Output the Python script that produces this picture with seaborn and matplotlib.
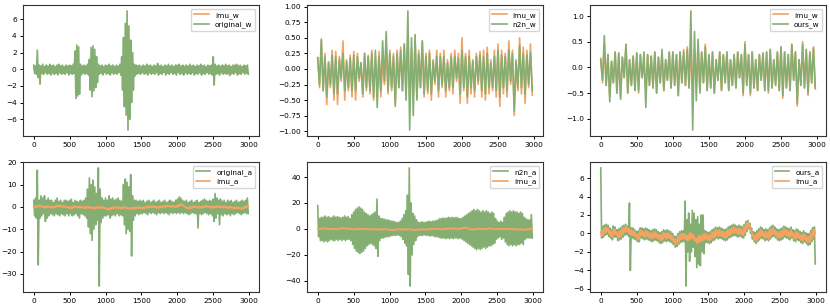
import numpy as np
import pandas as pd
import matplotlib
matplotlib.use("Agg")
import matplotlib.pyplot as plt
import seaborn as sns

# ---------------- data (hi / lo envelope values per bin) -------------
imu_w_hi = [0.18,0.45,0.25,0.12,0.30,0.28,0.20,0.45,0.15,0.22,
            0.28,0.25,0.10,0.25,0.22,0.30,0.20,0.28,0.15,0.30,
            0.30,0.25,0.30,0.35,0.40,0.40,0.35,0.45,0.30,0.45,
            0.25,0.30,0.15,0.30,0.25,0.30,0.15,0.25,0.30,0.25,
            0.50,0.25,0.30,0.15,0.25,0.28,0.30,0.35,0.15,0.30,
            0.40,0.30,0.25,0.45,0.30,0.15,0.50,0.35,0.30,0.40]
imu_w_lo = [-0.30,-0.35,-0.57,-0.30,-0.50,-0.57,-0.20,-0.50,-0.35,-0.45,
            -0.50,-0.20,-0.45,-0.35,-0.40,-0.50,-0.30,-0.45,-0.25,-0.40,
            -0.35,-0.55,-0.30,-0.35,-0.40,-0.45,-0.40,-0.45,-0.30,-0.45,
            -0.40,-0.50,-0.25,-0.45,-0.30,-0.45,-0.35,-0.40,-0.20,-0.55,
            -0.35,-0.55,-0.40,-0.45,-0.25,-0.45,-0.50,-0.40,-0.35,-0.45,
            -0.60,-0.40,-0.45,-0.25,-0.75,-0.35,-0.40,-0.55,-0.30,-0.42]

n2n_w_hi = [0.18,0.48,0.20,0.10,0.22,0.20,0.15,0.25,0.12,0.18,
            0.22,0.20,0.10,0.25,0.20,0.25,0.30,0.20,0.45,0.60,
            0.25,0.20,0.25,0.30,0.40,0.93,0.50,0.55,0.25,0.45,
            0.20,0.25,0.12,0.20,0.20,0.20,0.10,0.20,0.20,0.18,
            0.30,0.20,0.20,0.12,0.20,0.22,0.20,0.25,0.10,0.20,
            0.30,0.22,0.20,0.30,0.25,0.12,0.38,0.25,0.22,0.26]
n2n_w_lo = [-0.25,-0.35,-0.45,-0.25,-0.40,-0.40,-0.15,-0.35,-0.30,-0.35,
            -0.35,-0.15,-0.40,-0.30,-0.35,-0.45,-0.62,-0.35,-0.20,-0.35,
            -0.30,-0.60,-0.30,-0.35,-0.50,-0.98,-0.75,-0.50,-0.30,-0.40,
            -0.35,-0.40,-0.20,-0.35,-0.25,-0.35,-0.30,-0.30,-0.15,-0.40,
            -0.30,-0.45,-0.30,-0.35,-0.20,-0.35,-0.40,-0.30,-0.30,-0.35,
            -0.45,-0.30,-0.35,-0.20,-0.68,-0.30,-0.30,-0.40,-0.25,-0.35]

ours_w_hi = [0.15,0.62,0.25,0.12,0.30,0.28,0.20,0.45,0.15,0.22,
             0.28,0.25,0.30,0.25,0.22,0.30,0.20,0.35,0.15,0.30,
             0.30,0.25,0.30,0.30,0.35,1.10,0.70,0.55,0.30,0.40,
             0.25,0.30,0.15,0.30,0.25,0.30,0.15,0.25,0.30,0.25,
             0.45,0.25,0.30,0.15,0.25,0.28,0.30,0.35,0.15,0.30,
             0.40,0.30,0.25,0.45,0.30,0.15,0.45,0.35,0.30,0.38]
ours_w_lo = [-0.25,-0.35,-0.67,-0.30,-0.50,-0.62,-0.20,-0.50,-0.35,-0.45,
             -0.45,-0.20,-0.78,-0.35,-0.40,-0.50,-0.30,-0.45,-0.25,-0.40,
             -0.35,-0.55,-0.30,-0.35,-0.40,-1.22,-0.65,-0.50,-0.30,-0.45,
             -0.40,-0.50,-0.25,-0.45,-0.30,-0.45,-0.35,-0.40,-0.20,-0.50,
             -0.35,-0.50,-0.40,-0.45,-0.25,-0.45,-0.45,-0.40,-0.35,-0.45,
             -0.55,-0.40,-0.45,-0.25,-0.70,-0.35,-0.40,-0.50,-0.30,-0.40]

original_w_hi = [0.5,0.4,2.3,0.5,0.4,0.6,0.3,0.5,0.4,0.6,
                 0.4,0.5,0.3,0.5,0.6,0.4,0.5,0.3,0.5,0.4,
                 0.5,0.4,0.6,2.2,2.9,2.7,0.6,0.4,0.5,0.4,
                 0.6,1.2,2.6,2.8,2.4,1.5,0.6,0.4,0.5,0.3,
                 0.5,0.4,0.6,0.4,0.5,0.3,0.5,0.4,0.6,1.5,
                 3.8,5.5,7.0,5.2,3.5,2.0,0.6,0.5,0.4,0.5,
                 0.3,0.5,0.4,0.6,0.4,0.5,0.3,0.5,0.4,0.7,
                 0.4,0.5,0.3,0.5,0.4,0.6,0.4,0.5,0.3,0.5,
                 0.4,0.6,0.4,0.5,0.3,0.5,0.4,0.6,0.4,0.5,
                 0.3,0.5,0.4,0.6,0.4,0.5,0.3,0.5,0.4,0.5,
                 1.5,0.6,0.4,0.5,0.3,0.5,0.4,0.6,0.4,0.5,
                 0.3,0.5,0.4,0.6,0.4,0.5,0.3,0.5,0.4,0.5]
original_w_lo = [-0.5,-0.6,-1.0,-1.8,-0.5,-0.6,-0.4,-0.6,-0.5,-0.7,
                 -0.4,-0.6,-0.5,-0.7,-0.4,-0.6,-0.5,-0.6,-0.4,-0.7,
                 -0.5,-0.6,-0.5,-3.5,-3.2,-3.0,-0.7,-0.5,-0.6,-0.5,
                 -0.7,-2.5,-3.3,-2.6,-2.2,-1.6,-0.6,-0.5,-0.7,-0.4,
                 -0.6,-0.5,-0.7,-0.4,-0.6,-0.5,-0.6,-0.4,-0.7,-2.5,
                 -4.5,-5.5,-7.3,-6.0,-4.0,-2.5,-0.8,-0.6,-0.5,-0.6,
                 -0.4,-0.6,-0.5,-0.7,-0.4,-0.6,-0.5,-0.6,-0.4,-0.7,
                 -0.5,-0.6,-0.4,-0.7,-0.5,-0.6,-0.4,-0.6,-0.5,-0.7,
                 -0.4,-0.6,-0.5,-0.7,-0.4,-0.6,-0.5,-0.6,-0.4,-0.7,
                 -0.5,-0.6,-0.4,-0.7,-0.5,-0.6,-0.4,-0.6,-0.5,-0.7,
                 -1.9,-0.6,-0.5,-0.7,-0.4,-0.6,-0.5,-0.6,-0.4,-0.7,
                 -0.5,-0.6,-0.4,-0.7,-0.5,-0.6,-0.4,-0.6,-0.5,-0.6]

imu_a_hi = [0.15,0.35,0.6,0.7,0.55,0.3,0.1,0.45,0.45,0.05,
            0.2,0.25,0.5,0.65,0.8,0.55,0.5,0.35,0.3,0.15,
            -0.15,0.0,0.35,0.3,0.15,0.3,0.15,0.05,0.0,0.05,
            0.2,0.05,-0.15,-0.2,-0.15,0.1,-0.05,0.05,0.0,-0.15,
            -0.35,-0.6,-0.65,-0.3,-0.15,0.0,-0.05,-0.1,-0.25,-0.1,
            0.1,-0.05,-0.2,-0.55,-0.4,-0.2,-0.35,-0.1,0.0,-0.15,
            -0.2,-0.15,0.1,0.15,0.4,0.25,0.4,0.25,0.2,0.05,
            0.2,0.35,0.5,0.55,0.7,0.55,0.5,0.55,0.5,0.35,
            0.7,1.1,1.3,0.9,0.3,-0.15,-0.2,0.0,0.15,0.4,
            0.25,0.05,0.2,0.05,0.3,0.45,0.6,0.35,0.2,0.05,
            0.2,0.25,0.5,0.35,0.3,0.15,0.4,0.05,0.0,0.2,
            0.05,-0.15,-0.2,0.0,-0.25,-0.4,-0.35,0.0,0.3,0.45]
imu_a_lo = [-0.3,-0.15,0.05,0.2,0.0,-0.25,-0.4,-0.1,-0.1,-0.45,
            -0.4,-0.3,-0.05,0.15,0.2,0.05,-0.1,-0.2,-0.25,-0.4,
            -0.65,-0.6,-0.2,-0.25,-0.4,-0.25,-0.4,-0.5,-0.55,-0.5,
            -0.4,-0.5,-0.65,-0.8,-0.7,-0.45,-0.6,-0.5,-0.55,-0.7,
            -0.9,-1.2,-1.15,-0.9,-0.65,-0.6,-0.55,-0.7,-0.8,-0.65,
            -0.5,-0.6,-0.8,-1.05,-1.0,-0.8,-0.85,-0.7,-0.6,-0.7,
            -0.8,-0.65,-0.5,-0.4,-0.2,-0.3,-0.2,-0.3,-0.4,-0.5,
            -0.4,-0.2,-0.1,0.05,0.1,0.05,-0.1,0.0,-0.1,-0.2,
            0.1,0.5,0.8,0.3,-0.3,-0.65,-0.8,-0.6,-0.4,-0.2,
            -0.3,-0.5,-0.4,-0.5,-0.3,-0.1,0.0,-0.2,-0.4,-0.5,
            -0.4,-0.3,-0.1,-0.2,-0.3,-0.4,-0.2,-0.5,-0.6,-0.4,
            -0.5,-0.7,-0.8,-0.6,-0.8,-1.0,-0.9,-0.6,-0.3,0.0]

original_a_hi = [3,4,16.5,3,5,4,5,3,4,3,
                 3,2,3,4,2.5,3,2,3,3,2.5,
                 3,3.5,2,3,2.5,2,3,2.5,3,4,
                 8,13,10,12,9,6,17.5,8,4,3,
                 4,3,5,3.5,4,3,3.5,4,3,2.5,
                 10,12.5,11,9,14.5,5,3,3,2.5,3,
                 2.5,3,2,2.5,3,2,2.5,3,2,2.5,
                 3,2,2.5,3,2,2.5,3,2.5,2,3,
                 3.5,4.5,4,3,2.5,3,2,2.5,3,2,
                 2.5,3,2,2.5,3,3.5,3,2.5,3,2.5,
                 3.5,6,4,3,3.5,2.5,3,2,3,2.5,
                 3,2,2.5,3,2,2.5,3,2.5,3,4]
original_a_lo = [-4,-5,-26,-5,-4,-3,-6.5,-5,-4,-3,
                 -3.5,-4,-3,-3.5,-4,-3,-3.5,-4,-3,-4,
                 -3,-4,-3.5,-3,-4,-5,-3,-3.5,-4,-5,
                 -9,-12,-15,-10,-8,-6,-35.5,-7,-5,-4,
                 -4,-3.5,-5,-4,-3.5,-4,-3,-4,-3.5,-4,
                 -8,-12,-10,-11,-22,-6,-4,-3,-3.5,-3,
                 -3,-2.5,-3,-3.5,-2.5,-3,-2.5,-3,-3.5,-2.5,
                 -3,-2.5,-3,-2.5,-3,-3.5,-2.5,-3,-2.5,-3,
                 -2.5,-3,-2.5,-3,-2.5,-3,-3.5,-3,-2.5,-3,
                 -3,-9.5,-3,-3.5,-3,-2.5,-3,-3.5,-3,-4,
                 -6.5,-5,-3,-8,-3.5,-4,-3,-3.5,-3,-4,
                 -3,-3.5,-3,-2.5,-3,-3.5,-3,-2.5,-3,-3]

n2n_a_hi = [18,8,9,9,10,9,9.5,8.5,9,10,
            9,9.5,9,8.5,9,10,9,9.5,8,11,
            13,15,16,17,16,15,13,12,11,10,
            11,12,13,23,10,8,8,7.5,7,7,
            6.5,6,6,5.5,5,5,6,8,11,14,
            26,47,20,12,10,7,5,5,5.5,5,
            5,5.5,6,5.5,6,6,6.5,7,8,8,
            8.5,8,8.5,9,8.5,9,8.5,9,8.5,8,
            8,9,10,11,12,13,14,15,14,15,
            14,13,14,13,14,13,12,13,12,8,
            6,5,6,5,9,12,13,14,13,14,
            13,13,12,13,12,9,8,7,7,11]
n2n_a_lo = [-6,-9,-9,-10,-9,-10,-9,-8,-9,-9,
            -8,-9,-8,-9,-8,-9,-8,-8,-9,-12,
            -15,-17,-18,-19,-18,-17,-15,-13,-12,-11,
            -12,-13,-15,-21,-9,-7,-7,-6.5,-6,-6,
            -5.5,-5,-5,-5,-4.5,-5,-6,-8,-11,-13,
            -35,-44,-20,-12,-9,-6,-5,-5,-5,-4.5,
            -5,-5,-5.5,-5,-5.5,-6,-6,-6.5,-7,-7,
            -7,-7.5,-7,-7.5,-7,-7.5,-7,-7,-7.5,-7,
            -8,-9,-10,-11,-12,-13,-14,-15,-16,-15,
            -16,-15,-14,-15,-14,-13,-13,-12,-11,-8,
            -7,-6,-8,-7,-10,-12,-13,-12,-13,-12,
            -13,-12,-12,-11,-12,-8,-7,-7,-7,-7]

ours_a_hi = [7.1,0.7,0.9,1.0,0.9,0.6,0.4,0.8,0.7,0.4,
             0.5,0.6,0.8,0.9,1.0,0.8,3.3,0.6,0.6,0.4,
             0.2,0.3,0.6,0.6,0.5,0.6,0.5,0.4,0.3,0.4,
             0.5,0.4,0.2,0.1,0.2,0.4,0.3,0.4,0.3,0.2,
             0.0,-0.3,-0.3,0.0,0.2,0.3,0.3,3.5,1.5,2.2,
             1.0,2.5,2.2,1.5,1.8,1.0,2.0,2.0,0.3,0.2,
             0.1,0.2,0.4,0.5,0.7,0.6,0.7,0.6,0.5,0.4,
             0.5,0.7,0.8,0.9,1.0,0.9,0.8,0.9,0.8,0.7,
             1.0,1.3,1.4,1.1,0.6,0.2,0.1,0.3,0.5,0.7,
             0.6,0.4,0.5,0.4,0.6,0.8,0.9,0.7,0.5,0.4,
             0.5,0.6,0.8,0.7,0.6,0.5,0.7,0.4,0.3,0.5,
             0.4,0.2,0.1,0.3,0.1,0.0,0.0,0.3,0.6,0.7]
ours_a_lo = [-0.5,-0.4,-0.2,-0.1,-0.3,-0.5,-0.7,-0.4,-0.4,-0.8,
             -0.7,-0.6,-0.4,-0.2,-0.1,-0.3,-4.0,-0.5,-0.6,-0.7,
             -0.9,-0.9,-0.5,-0.6,-0.7,-0.6,-0.7,-0.8,-0.9,-0.8,
             -0.7,-0.8,-1.0,-1.1,-1.0,-0.8,-0.9,-0.8,-0.9,-1.0,
             -1.2,-1.5,-1.4,-1.2,-1.0,-0.9,-0.9,-5.7,-2.0,-3.0,
             -2.0,-1.5,-2.5,-3.7,-3.3,-3.5,-2.0,-2.2,-1.0,-1.0,
             -1.1,-1.0,-0.8,-0.7,-0.5,-0.6,-0.5,-0.6,-0.7,-0.8,
             -0.7,-0.5,-0.4,-0.3,-0.2,-0.3,-0.4,-0.3,-0.4,-0.5,
             -0.2,0.2,0.5,0.0,-0.6,-0.9,-1.1,-0.9,-0.7,-0.5,
             -0.6,-0.8,-0.7,-0.8,-0.6,-0.4,-0.3,-0.5,-0.7,-0.8,
             -0.7,-0.6,-0.4,-0.5,-0.6,-0.7,-0.5,-0.8,-0.9,-0.7,
             -0.8,-1.0,-1.1,-0.9,-1.1,-1.3,-1.2,-0.9,-0.6,-3.3]

x_ticks = [0, 500, 1000, 1500, 2000, 2500, 3000]
y_ticks = [
    [-6, -4, -2, 0, 2, 4, 6],
    [-1.0, -0.75, -0.5, -0.25, 0.0, 0.25, 0.5, 0.75, 1.0],
    [-1.0, -0.5, 0.0, 0.5, 1.0],
    [-30, -20, -10, 0, 10, 20],
    [-40, -20, 0, 20, 40],
    [-6, -4, -2, 0, 2, 4, 6],
]

N_SAMPLES = 3000
ORANGE = "#F4A261"
GREEN = "#84AE72"
FS = 5.3


def series(hi, lo):
    y = np.column_stack([hi, lo]).ravel()
    x = np.arange(len(y)) * (N_SAMPLES / len(y))
    return x, y


panels = [
    [("imu_w", imu_w_hi, imu_w_lo, ORANGE), ("original_w", original_w_hi, original_w_lo, GREEN)],
    [("imu_w", imu_w_hi, imu_w_lo, ORANGE), ("n2n_w", n2n_w_hi, n2n_w_lo, GREEN)],
    [("imu_w", imu_w_hi, imu_w_lo, ORANGE), ("ours_w", ours_w_hi, ours_w_lo, GREEN)],
    [("original_a", original_a_hi, original_a_lo, GREEN), ("imu_a", imu_a_hi, imu_a_lo, ORANGE)],
    [("n2n_a", n2n_a_hi, n2n_a_lo, GREEN), ("imu_a", imu_a_hi, imu_a_lo, ORANGE)],
    [("ours_a", ours_a_hi, ours_a_lo, GREEN), ("imu_a", imu_a_hi, imu_a_lo, ORANGE)],
]

plt.rcParams["font.family"] = ["DejaVu Sans"]
plt.rcParams["font.size"] = FS

fig = plt.figure(figsize=(8.3, 3.08), dpi=100)
W, H = 830, 308
col_left = [23, 307, 590]
row_top = [5, 162]
row_h = [131, 130]
aw = 236

for k, panel in enumerate(panels):
    r, c = divmod(k, 3)
    ah = row_h[r]
    ax = fig.add_axes([col_left[c] / W, (H - row_top[r] - ah) / H, aw / W, ah / H])
    for name, hi, lo, col in panel:
        x, y = series(hi, lo)
        sns.lineplot(x=x, y=y, ax=ax, color=col, label=name, linewidth=1.2,
                     estimator=None, sort=False)
    ax.set_xticks(x_ticks)
    ax.set_yticks(y_ticks[k])
    ax.tick_params(labelsize=FS, length=2.5, width=0.7, pad=2)
    ax.legend(loc="upper right", fontsize=FS, handlelength=2, borderpad=0.4,
              labelspacing=0.4, framealpha=0.8)
    for s in ax.spines.values():
        s.set_linewidth(0.8)
        s.set_color("#333333")

fig.savefig("out.png", dpi=100)
